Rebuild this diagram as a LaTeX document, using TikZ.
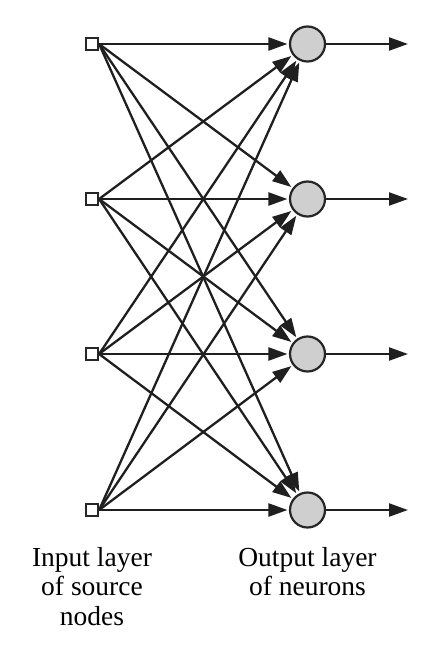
\documentclass[tikz,border=0pt]{standalone}
\usepackage{fontspec}
\setmainfont{Liberation Serif}
\usetikzlibrary{arrows.meta}
\begin{document}
\begin{tikzpicture}[x=1pt,y=-1pt,
  src/.style={rectangle, draw=black!85, line width=1.7pt, fill=white, minimum size=12.5pt, inner sep=0pt},
  neuron/.style={circle, draw=black!85, line width=2.2pt, fill=black!19, minimum size=35pt, inner sep=0pt},
  link/.style={line width=2.3pt, draw=black!88, -{Triangle[length=19pt,width=13pt]}, shorten >=1.5pt},
  lbl/.style={font=\fontsize{27.5}{29.5}\selectfont, align=center, inner sep=0pt}]
\useasboundingbox (0,0) rectangle (432,655);
\foreach \k/\y in {1/44,2/199,3/354,4/510}{
  \node[src] (i\k) at (92,\y) {};
  \node[neuron] (o\k) at (307.5,\y) {};
  \coordinate (e\k) at (408,\y);
}
\foreach \a in {1,2,3,4}{
  \foreach \b in {1,2,3,4}{
    \draw[link] (i\a.east) -- (o\b);
  }
  \draw[link, shorten >=0pt] (o\a) -- (e\a);
}
\node[lbl, anchor=north] (inlbl) at (92,547) {Input layer\\of source\\nodes};
\node[lbl, anchor=north] (outlbl) at (307.5,547) {Output layer\\of neurons};
\end{tikzpicture}
\end{document}
